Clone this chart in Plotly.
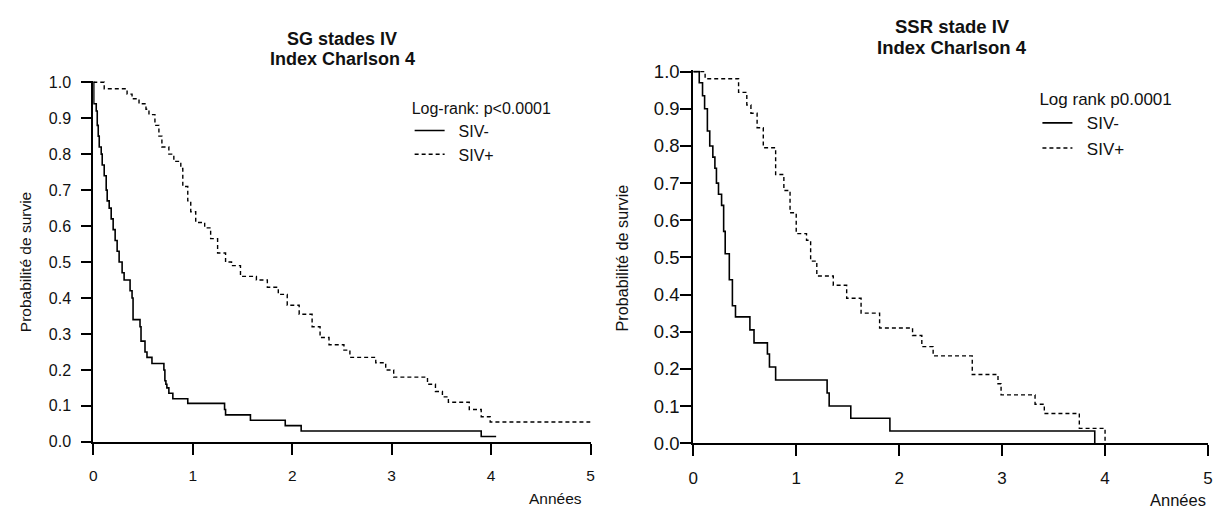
import plotly.graph_objects as go

W, H = 1213, 519

# ---------------- data ----------------
years_ticks = [0, 1, 2, 3, 4, 5]
surv_ticks = [0.0, 0.1, 0.2, 0.3, 0.4, 0.5, 0.6, 0.7, 0.8, 0.9, 1.0]

# Left panel: SG stades IV, Index Charlson 4
sg_neg_t = [0, 0.005, 0.03, 0.04, 0.05, 0.06, 0.08, 0.09, 0.11, 0.13,
            0.14, 0.16, 0.18, 0.20, 0.22, 0.24, 0.26, 0.29, 0.31, 0.37,
            0.39, 0.40, 0.47, 0.48, 0.52, 0.54, 0.59, 0.71, 0.72, 0.73,
            0.74, 0.76, 0.80, 0.95, 1.32, 1.33, 1.58, 1.93, 2.09, 3.90, 4.05]
sg_neg_s = [1.0, 0.94, 0.92, 0.88, 0.85, 0.82, 0.80, 0.77, 0.74, 0.70,
            0.67, 0.65, 0.62, 0.59, 0.56, 0.53, 0.50, 0.47, 0.45, 0.42,
            0.40, 0.34, 0.32, 0.28, 0.25, 0.235, 0.218, 0.20, 0.17, 0.16,
            0.15, 0.135, 0.12, 0.107, 0.09, 0.075, 0.06, 0.045, 0.03, 0.015, 0.015]

sg_pos_t = [0, 0.11, 0.34, 0.39, 0.46, 0.53, 0.56, 0.62, 0.66, 0.69,
            0.76, 0.81, 0.88, 0.90, 0.95, 0.98, 1.03, 1.12, 1.18, 1.25,
            1.33, 1.39, 1.48, 1.64, 1.75, 1.86, 1.95, 2.07, 2.20, 2.28,
            2.37, 2.52, 2.58, 2.84, 2.94, 3.02, 3.36, 3.44, 3.51, 3.57,
            3.78, 3.90, 3.99, 5.0]
sg_pos_s = [1.0, 0.982, 0.967, 0.954, 0.94, 0.925, 0.91, 0.88, 0.85, 0.82,
            0.80, 0.78, 0.76, 0.71, 0.67, 0.64, 0.61, 0.595, 0.565, 0.525,
            0.50, 0.49, 0.46, 0.45, 0.43, 0.41, 0.38, 0.355, 0.32, 0.29,
            0.27, 0.255, 0.235, 0.22, 0.20, 0.18, 0.16, 0.14, 0.125, 0.11,
            0.09, 0.07, 0.055, 0.055]

# Right panel: SSR stade IV, Index Charlson 4
ssr_neg_t = [0, 0.058, 0.09, 0.11, 0.137, 0.16, 0.19, 0.21, 0.225, 0.245,
             0.275, 0.295, 0.31, 0.35, 0.38, 0.41, 0.55, 0.59, 0.72, 0.74,
             0.80, 1.30, 1.32, 1.53, 1.91, 3.90]
ssr_neg_s = [1.0, 0.97, 0.935, 0.90, 0.84, 0.80, 0.77, 0.74, 0.70, 0.67,
             0.64, 0.57, 0.51, 0.44, 0.37, 0.34, 0.305, 0.27, 0.24, 0.205,
             0.17, 0.135, 0.10, 0.067, 0.033, 0.0]

ssr_pos_t = [0, 0.115, 0.44, 0.52, 0.56, 0.62, 0.68, 0.80, 0.88, 0.94,
             1.00, 1.10, 1.14, 1.20, 1.36, 1.49, 1.63, 1.81, 2.13, 2.22,
             2.33, 2.71, 2.96, 2.99, 3.32, 3.41, 3.75, 4.0]
ssr_pos_s = [1.0, 0.981, 0.944, 0.91, 0.888, 0.849, 0.795, 0.723, 0.68, 0.62,
             0.564, 0.546, 0.49, 0.45, 0.425, 0.39, 0.35, 0.31, 0.29, 0.26,
             0.235, 0.185, 0.16, 0.13, 0.105, 0.08, 0.04, 0.0]

series_names = ["SIV-", "SIV+"]
titles_left = ["SG stades IV", "Index Charlson 4"]
titles_right = ["SSR stade IV", "Index Charlson 4"]
legend_titles = ["Log-rank: p<0.0001", "Log rank p0.0001"]
x_label = "Années"
y_label = "Probabilité de survie"

FONT = "Liberation Sans, Arial, sans-serif"
INK = "#111111"
PAD = "\u00a0\u00a0"  # gap between legend sample line and label


def px(x):
    return x / W


def py(y):
    return 1 - y / H


fig = go.Figure()

solid = dict(color="black", width=1.6)
dashed = dict(color="black", width=1.4, dash="4px,3px")

fig.add_trace(go.Scatter(x=sg_neg_t, y=sg_neg_s, mode="lines", line_shape="hv", line=solid,
                         name=PAD + series_names[0], xaxis="x", yaxis="y", legend="legend"))
fig.add_trace(go.Scatter(x=sg_pos_t, y=sg_pos_s, mode="lines", line_shape="hv", line=dashed,
                         name=PAD + series_names[1], xaxis="x", yaxis="y", legend="legend"))
fig.add_trace(go.Scatter(x=ssr_neg_t, y=ssr_neg_s, mode="lines", line_shape="hv", line=solid,
                         name=PAD + series_names[0], xaxis="x2", yaxis="y2", legend="legend2"))
fig.add_trace(go.Scatter(x=ssr_pos_t, y=ssr_pos_s, mode="lines", line_shape="hv", line=dashed,
                         name=PAD + series_names[1], xaxis="x2", yaxis="y2", legend="legend2"))

# geometry (pixel positions of the axes)
L_x0, L_pxyr = 89.0, 100.3
L_y0, L_pxu = 449.3, 373.3
R_x0 = 694.0
R_y0, R_pxu = 450.7, 385.7
YTOP = 1.004

ax_common = dict(showline=True, linecolor="black", linewidth=2, ticks="outside",
                 tickwidth=2, tickcolor="black", showgrid=False, zeroline=False,
                 mirror=False)

fig.update_layout(
    width=W, height=H,
    margin=dict(l=0, r=0, t=0, b=0),
    paper_bgcolor="white", plot_bgcolor="white",
    font=dict(family=FONT, color=INK),
    xaxis=dict(domain=[px(L_x0), px(L_x0 + 5 * L_pxyr)], range=[0, 5],
               tickvals=years_ticks, ticklen=11, tickfont=dict(size=15.5),
               ticklabelstandoff=8, anchor="y", **ax_common),
    yaxis=dict(domain=[py(L_y0), py(L_y0 - YTOP * L_pxu)], range=[0, YTOP],
               tickvals=surv_ticks, tickformat=".1f", ticklen=10, tickfont=dict(size=16),
               ticklabelstandoff=7, anchor="x", **ax_common),
    xaxis2=dict(domain=[px(R_x0), 1.0], range=[0, 5],
                tickvals=years_ticks, ticklen=11, tickfont=dict(size=17),
                ticklabelstandoff=7, ticklabeloverflow="allow", anchor="y2", **ax_common),
    yaxis2=dict(domain=[py(R_y0), py(R_y0 - YTOP * R_pxu)], range=[0, YTOP],
                tickvals=surv_ticks, tickformat=".1f", ticklen=11, tickfont=dict(size=18.5),
                ticklabelstandoff=-3, anchor="x2", **ax_common),
    legend=dict(x=px(408), y=py(87), xanchor="left", yanchor="top",
                bgcolor="rgba(0,0,0,0)", borderwidth=0, tracegroupgap=0,
                font=dict(size=16, family=FONT, color=INK),
                title=dict(text=legend_titles[0], font=dict(size=16, family=FONT, color=INK)),
                itemwidth=30),
    legend2=dict(x=px(1041), y=py(77), xanchor="left", yanchor="top",
                 bgcolor="rgba(0,0,0,0)", borderwidth=0, tracegroupgap=0,
                 font=dict(size=17, family=FONT, color=INK),
                 title=dict(text=legend_titles[1], font=dict(size=17, family=FONT, color=INK)),
                 itemwidth=30),
    showlegend=True,
)

ann = []
for txt, yy in zip(titles_left, [31, 52]):
    ann.append(dict(text=f"<b>{txt}</b>", x=px(340), y=py(yy), xref="paper", yref="paper",
                    xanchor="center", yanchor="middle", showarrow=False,
                    font=dict(size=18, family=FONT, color=INK)))
for txt, yy in zip(titles_right, [18, 39.5]):
    ann.append(dict(text=f"<b>{txt}</b>", x=px(955), y=py(yy), xref="paper", yref="paper",
                    xanchor="center", yanchor="middle", showarrow=False,
                    font=dict(size=18.5, family=FONT, color=INK)))
ann.append(dict(text=y_label, x=px(21), y=py(263), xref="paper", yref="paper", textangle=-90,
                xanchor="center", yanchor="middle", showarrow=False,
                font=dict(size=15.5, family=FONT, color=INK)))
ann.append(dict(text=y_label, x=px(622), y=py(258), xref="paper", yref="paper", textangle=-90,
                xanchor="center", yanchor="middle", showarrow=False,
                font=dict(size=16.2, family=FONT, color=INK)))
ann.append(dict(text=x_label, x=px(555), y=py(508), xref="paper", yref="paper",
                xanchor="center", yanchor="middle", showarrow=False,
                font=dict(size=15.5, family=FONT, color=INK)))
ann.append(dict(text=x_label, x=px(1153), y=py(510), xref="paper", yref="paper",
                xanchor="left", yanchor="middle", showarrow=False,
                font=dict(size=16.5, family=FONT, color=INK)))
fig.update_layout(annotations=ann)

fig.write_html("out.html", config={"displayModeBar": False},
               post_script="document.body.style.margin='0';")
